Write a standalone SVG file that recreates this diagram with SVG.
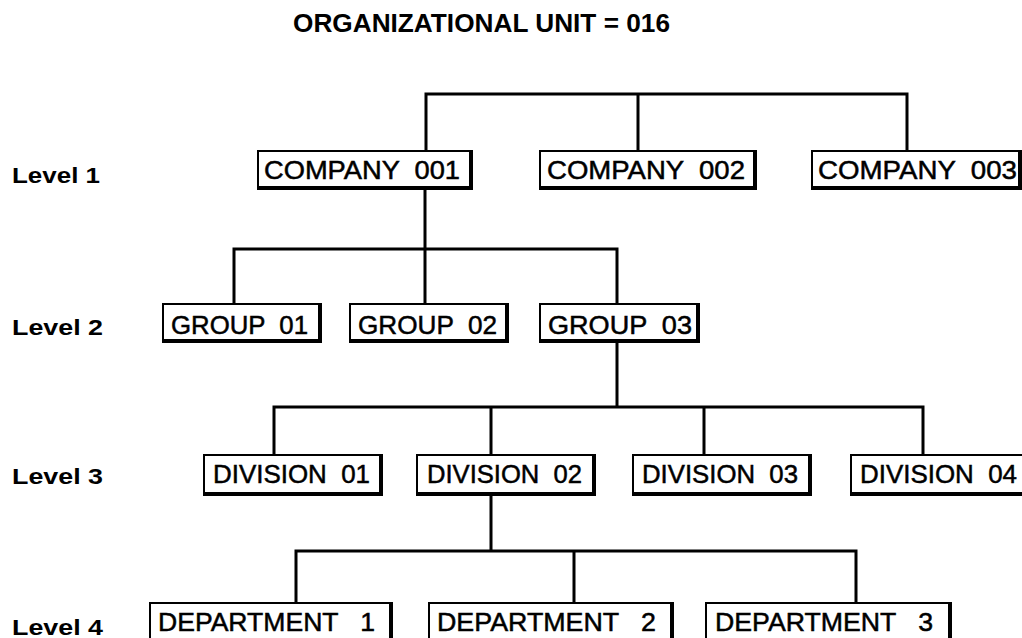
<svg xmlns="http://www.w3.org/2000/svg" width="1022" height="638" viewBox="0 0 1022 638">
<style>
.bg{fill:#fff}
.frame{fill:#000}
.inner{fill:#fff}
text{white-space:pre}
.t{font-family:"Liberation Sans",Arial,sans-serif;font-size:26px;fill:#000;stroke:#000;stroke-width:0.5}
.lvl{font-family:"Liberation Sans",Arial,sans-serif;font-size:22px;font-weight:bold;fill:#000}
.title{font-family:"Liberation Sans",Arial,sans-serif;font-size:26px;font-weight:bold;fill:#000}
.c{stroke:#000;stroke-width:3;fill:none}
</style>
<rect class="bg" x="0" y="0" width="1022" height="638"/>
<text class="title" x="293" y="32" textLength="377" lengthAdjust="spacingAndGlyphs">ORGANIZATIONAL UNIT = 016</text>
<text class="lvl" x="12" y="183" textLength="88" lengthAdjust="spacingAndGlyphs">Level 1</text>
<text class="lvl" x="12" y="335" textLength="91" lengthAdjust="spacingAndGlyphs">Level 2</text>
<text class="lvl" x="12" y="484" textLength="91" lengthAdjust="spacingAndGlyphs">Level 3</text>
<text class="lvl" x="12" y="635" textLength="91" lengthAdjust="spacingAndGlyphs">Level 4</text>
<g id="connectors">
<path class="c" d="M426 190 V94 H907 V150 M638 94 V150"/>
<path class="c" d="M425 190 V303 M234 303 V249 H617 V303"/>
<path class="c" d="M617 343 V407 M274 454 V407 H923 V454 M491 407 V454 M704 407 V454"/>
<path class="c" d="M491 496 V551 M296 602 V551 H856 V602 M574 551 V602"/>
</g>
<g id="company001"><rect class="frame" x="257" y="150" width="216" height="40"/><rect class="inner" x="259" y="152" width="210" height="34"/><text class="t" x="264" y="179" textLength="196" lengthAdjust="spacingAndGlyphs">COMPANY  001</text></g>
<g id="company002"><rect class="frame" x="539" y="150" width="218" height="40"/><rect class="inner" x="541" y="152" width="212" height="34"/><text class="t" x="547" y="179" textLength="198" lengthAdjust="spacingAndGlyphs">COMPANY  002</text></g>
<g id="company003"><rect class="frame" x="811" y="150" width="211" height="40"/><rect class="inner" x="813" y="152" width="205" height="34"/><text class="t" x="818" y="179" textLength="199" lengthAdjust="spacingAndGlyphs">COMPANY  003</text></g>
<g id="group01"><rect class="frame" x="162" y="303" width="160" height="40"/><rect class="inner" x="164" y="305" width="154" height="34"/><text class="t" x="171" y="334" textLength="137" lengthAdjust="spacingAndGlyphs">GROUP  01</text></g>
<g id="group02"><rect class="frame" x="349" y="303" width="160" height="40"/><rect class="inner" x="351" y="305" width="154" height="34"/><text class="t" x="358" y="334" textLength="139" lengthAdjust="spacingAndGlyphs">GROUP  02</text></g>
<g id="group03"><rect class="frame" x="539" y="303" width="161" height="40"/><rect class="inner" x="541" y="305" width="155" height="34"/><text class="t" x="548" y="334" textLength="144" lengthAdjust="spacingAndGlyphs">GROUP  03</text></g>
<g id="division01"><rect class="frame" x="203" y="454" width="180" height="42"/><rect class="inner" x="205" y="456" width="174" height="36"/><text class="t" x="213" y="483" textLength="157" lengthAdjust="spacingAndGlyphs">DIVISION  01</text></g>
<g id="division02"><rect class="frame" x="416" y="454" width="180" height="42"/><rect class="inner" x="418" y="456" width="174" height="36"/><text class="t" x="427" y="483" textLength="155" lengthAdjust="spacingAndGlyphs">DIVISION  02</text></g>
<g id="division03"><rect class="frame" x="632" y="454" width="180" height="42"/><rect class="inner" x="634" y="456" width="174" height="36"/><text class="t" x="642" y="483" textLength="156" lengthAdjust="spacingAndGlyphs">DIVISION  03</text></g>
<g id="division04"><rect class="frame" x="850" y="454" width="172" height="42"/><rect class="inner" x="852" y="456" width="170" height="36"/><text class="t" x="860" y="483" textLength="157" lengthAdjust="spacingAndGlyphs">DIVISION  04</text></g>
<g id="department1"><rect class="frame" x="149" y="602" width="244" height="40"/><rect class="inner" x="151" y="604" width="238" height="34"/><text class="t" x="158" y="631" textLength="217" lengthAdjust="spacingAndGlyphs">DEPARTMENT   1</text></g>
<g id="department2"><rect class="frame" x="428" y="602" width="246" height="40"/><rect class="inner" x="430" y="604" width="240" height="34"/><text class="t" x="437" y="631" textLength="219" lengthAdjust="spacingAndGlyphs">DEPARTMENT   2</text></g>
<g id="department3"><rect class="frame" x="705" y="602" width="247" height="40"/><rect class="inner" x="707" y="604" width="241" height="34"/><text class="t" x="715" y="631" textLength="218" lengthAdjust="spacingAndGlyphs">DEPARTMENT   3</text></g>
</svg>
